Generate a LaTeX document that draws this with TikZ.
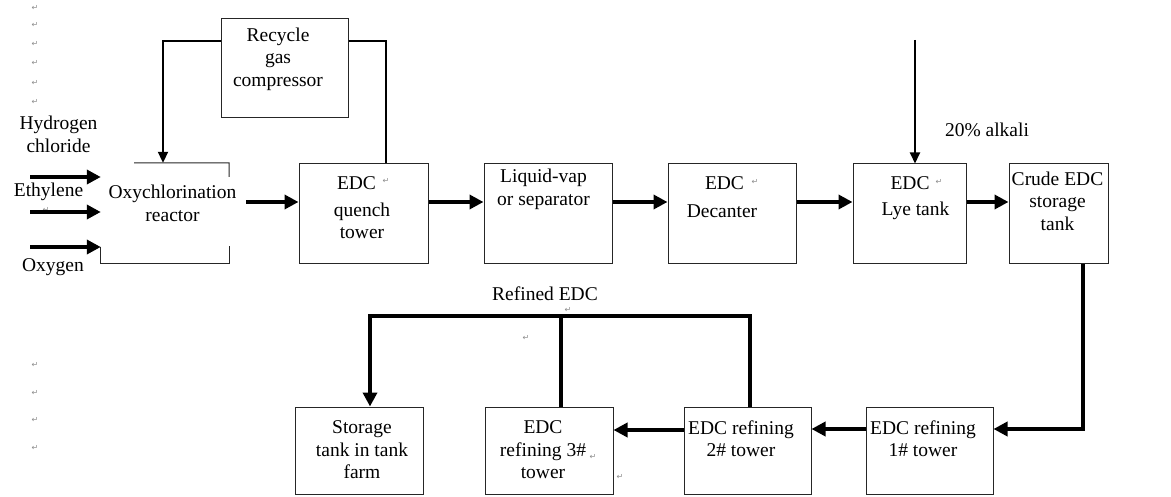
\documentclass[tikz,border=0pt]{standalone}
\usepackage{fontspec}
\setmainfont{Liberation Serif}
\newfontfamily\symfont{DejaVu Sans}
\usetikzlibrary{arrows.meta}
\begin{document}
\begin{tikzpicture}[x=1pt,y=-1pt,
  box/.style={draw=black!85, line width=1pt, inner sep=0pt},
  txt/.style={font=\fontsize{19.5}{22.5}\selectfont, align=center, inner sep=0pt},
  flow/.style={line width=4.5pt, -{Triangle[length=14pt,width=14pt]}},
  flowline/.style={line width=4.5pt},
  thinarrow/.style={line width=2pt, -{Triangle[length=11pt,width=10pt]}},
  thinline/.style={line width=2pt},
  pmark/.style={font=\symfont\fontsize{8}{8}\selectfont, text=black!45, inner sep=0pt}]
\useasboundingbox (0,0) rectangle (1171,497);

% paragraph marks
\foreach \yy [count=\i] in {8,25,44,63,83,102,365,393,420,448}
  \node[pmark] (pm\i) at (35,\yy) {↵};
\node[pmark] (pme) at (46,210) {↵};
\node[pmark] (pmq) at (386,181) {↵};
\node[pmark] (pmd) at (755,182) {↵};
\node[pmark] (pml) at (939,182) {↵};
\node[pmark] (pmr1) at (568,310) {↵};
\node[pmark] (pmr2) at (526,338) {↵};
\node[pmark] (pm31) at (593,457) {↵};
\node[pmark] (pm32) at (620,477) {↵};

% boxes
\node[box, minimum width=127pt, minimum height=99pt] (rgc) at (284.5,68.5) {};
\node[inner sep=0pt, minimum width=128pt, minimum height=100pt] (oxy) at (165,213) {};
\draw[black!85, line width=1pt] (134,163) -- (oxy.north east) -- ([yshift=-14pt]oxy.north east);
\draw[black!85, line width=1pt] ([yshift=17pt]oxy.south east) -- (oxy.south east) -- (oxy.south west) -- ([yshift=16pt]oxy.south west);
\node[box, minimum width=129pt, minimum height=100pt] (qt) at (363.5,214) {};
\node[box, minimum width=128pt, minimum height=100pt] (sep) at (548,214) {};
\node[box, minimum width=128pt, minimum height=100pt] (dec) at (732,214) {};
\node[box, minimum width=113pt, minimum height=100pt] (lye) at (909.5,214) {};
\node[box, minimum width=99pt, minimum height=100pt] (crude) at (1058.5,214) {};
\node[box, minimum width=127pt, minimum height=87pt] (r1) at (929.5,450.5) {};
\node[box, minimum width=127pt, minimum height=87pt] (r2) at (747.5,450.5) {};
\node[box, minimum width=128pt, minimum height=87pt] (r3) at (549,450.5) {};
\node[box, minimum width=128pt, minimum height=87pt] (stk) at (359,450.5) {};

% texts
\node[txt] (trgc) at (278,59) {Recycle\\gas\\compressor};
\node[txt] (toxy) at (172.5,203.5) {Oxychlorination\\reactor};
\node[txt] (thcl) at (58.5,134.5) {Hydrogen\\chloride};
\node[txt] (teth) at (48.5,192) {Ethylene};
\node[txt] (toxg) at (53,267) {Oxygen};
\node[txt] (tqe) at (356.5,183) {EDC};
\node[txt] (tqt) at (362,221) {quench\\tower};
\node[txt] (tsep) at (543.5,189.5) {Liquid-vap\\or separator};
\node[txt] (tde) at (724.5,183) {EDC};
\node[txt] (tdec) at (722,211) {Decanter};
\node[txt] (tle) at (910,183) {EDC};
\node[txt] (tlye) at (915.5,211) {Lye tank};
\node[txt] (tcr) at (1057.5,201) {Crude EDC\\storage\\tank};
\node[txt] (talk) at (987,130) {20\% alkali};
\node[txt] (tref) at (545,294) {Refined EDC};
\node[txt] (tstk) at (362,450) {Storage\\tank in tank\\farm};
\node[txt] (tr3) at (543,450) {EDC\\refining 3\#\\tower};
\node[txt] (tr2) at (741,438.5) {EDC refining\\2\# tower};
\node[txt] (tr1) at (923,438.5) {EDC refining\\1\# tower};

% connectors
\draw[thinarrow] ([yshift=-23pt]rgc.north west) -| ([xshift=-2pt]oxy.north);
\draw[thinline] ([yshift=-23pt]rgc.north east) -| ([xshift=22.5pt]qt.north);

\coordinate (f1) at (30,177);
\coordinate (f2) at (30,212);
\coordinate (f3) at (30,247);
\draw[flow] (f1) -- (oxy.west |- f1);
\draw[flow] (f2) -- (oxy.west |- f2);
\draw[flow] (f3) -- (oxy.west |- f3);

\draw[flow] ([xshift=17pt,yshift=11pt]oxy.east) -- ([yshift=12pt]qt.west);
\draw[flow] ([yshift=12pt]qt.east) -- ([yshift=12pt]sep.west);
\draw[flow] ([yshift=12pt]sep.east) -- ([yshift=12pt]dec.west);
\draw[flow] ([yshift=12pt]dec.east) -- ([yshift=12pt]lye.west);
\draw[flow] ([yshift=12pt]lye.east) -- ([yshift=12pt]crude.west);

\coordinate (alk) at (915,40);
\draw[thinarrow] (alk) -- (lye.north -| alk);

\draw[flow] ([xshift=24.5pt]crude.south) |- ([yshift=21.5pt]r1.east);
\draw[flow] ([yshift=21.5pt]r1.west) -- ([yshift=21.5pt]r2.east);
\draw[flow] ([yshift=20.5pt]r2.west) -- ([yshift=20.5pt]r3.east);

\coordinate (rt) at (750,316);
\coordinate (lt) at (370,316);
\coordinate (r3top) at ([xshift=12pt]r3.north);
\draw[flow] ([xshift=2.5pt]r2.north) -- (rt) -- (lt) -- (stk.north -| lt);
\draw[flowline] (r3top) -- (r3top |- rt);
\end{tikzpicture}
\end{document}
